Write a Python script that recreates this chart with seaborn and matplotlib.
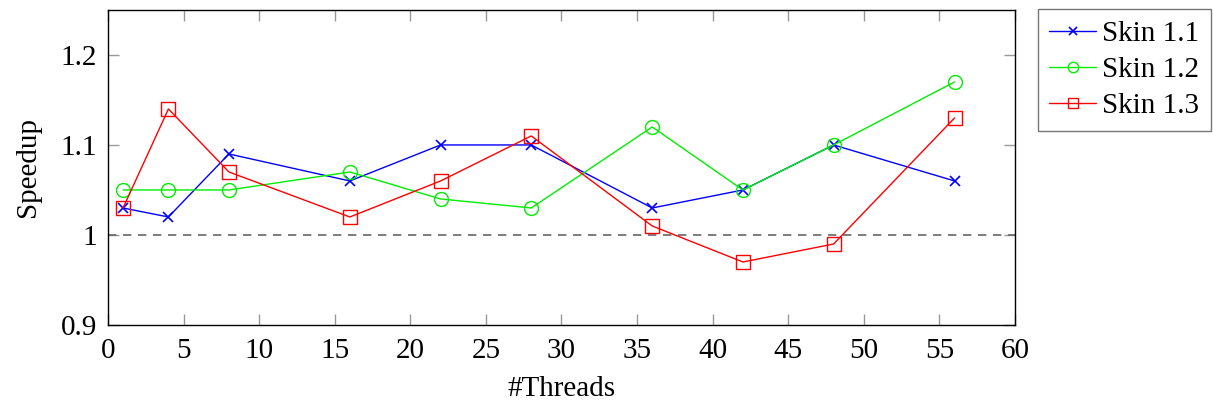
import numpy as np
import pandas as pd
import matplotlib
matplotlib.use("Agg")
import matplotlib.pyplot as plt
import seaborn as sb

threads = [1, 4, 8, 16, 22, 28, 36, 42, 48, 56]
skin_11 = [1.03, 1.02, 1.09, 1.06, 1.10, 1.10, 1.03, 1.05, 1.10, 1.06]
skin_12 = [1.05, 1.05, 1.05, 1.07, 1.04, 1.03, 1.12, 1.05, 1.10, 1.17]
skin_13 = [1.03, 1.14, 1.07, 1.02, 1.06, 1.11, 1.01, 0.97, 0.99, 1.13]
labels = ["Skin 1.1", "Skin 1.2", "Skin 1.3"]


def main():
    sb.set_style("ticks")
    plt.rcParams["font.family"] = ["Liberation Serif", "DejaVu Serif"]
    for k in ["text.color", "axes.labelcolor", "xtick.labelcolor", "ytick.labelcolor"]:
        plt.rcParams[k] = "black"

    fig = plt.figure(figsize=(12.13, 4.05), dpi=100)
    ax = fig.add_axes([0.089, 0.1975, 0.7478, 0.778])

    ax.axhline(1.0, color="#666666", ls=(0, (5, 4)), lw=1.2, zorder=1)

    styles = [
        dict(color="blue", marker="x", ms=7, mew=1.2),
        dict(color="#00ee00", marker="o", ms=10, mew=1.0),
        dict(color="red", marker="s", ms=10, mew=1.0),
    ]
    for vals, lab, st in zip([skin_11, skin_12, skin_13], labels, styles):
        sb.lineplot(x=threads, y=vals, ax=ax, label=lab, lw=1.0,
                    color=st["color"], marker=st["marker"], markersize=st["ms"],
                    markeredgewidth=st["mew"], markerfacecolor="none",
                    markeredgecolor=st["color"], zorder=3)

    ax.set_xlim(0, 60)
    ax.set_ylim(0.9, 1.25)
    ax.set_xticks(np.arange(0, 61, 5))
    ax.set_yticks([0.9, 1.0, 1.1, 1.2])
    ax.set_yticklabels(["0.9", "1", "1.1", "1.2"])
    ax.tick_params(direction="in", length=8, width=1, color="#999999",
                   labelsize=21, top=True, right=True, labelcolor="black")
    ax.tick_params(axis="x", pad=9)
    ax.tick_params(axis="y", pad=8)
    for s in ax.spines.values():
        s.set_linewidth(1.0)
        s.set_color("black")

    ax.set_xlabel("#Threads", fontsize=21, labelpad=9, color="black")
    ax.set_ylabel("Speedup", fontsize=21, labelpad=14, color="black")

    leg = ax.legend(loc="upper left", bbox_to_anchor=(1.025, 1.002), fontsize=21,
                    frameon=True, fancybox=False, edgecolor="#555555",
                    handlelength=1.6, handletextpad=0.2, borderpad=0.4,
                    labelspacing=0.33, borderaxespad=0, markerscale=0.75)
    leg.get_frame().set_linewidth(1.0)
    for t in leg.get_texts():
        t.set_color("black")

    fig.savefig("out.png", dpi=100)
    plt.close(fig)


if __name__ == "__main__":
    main()
